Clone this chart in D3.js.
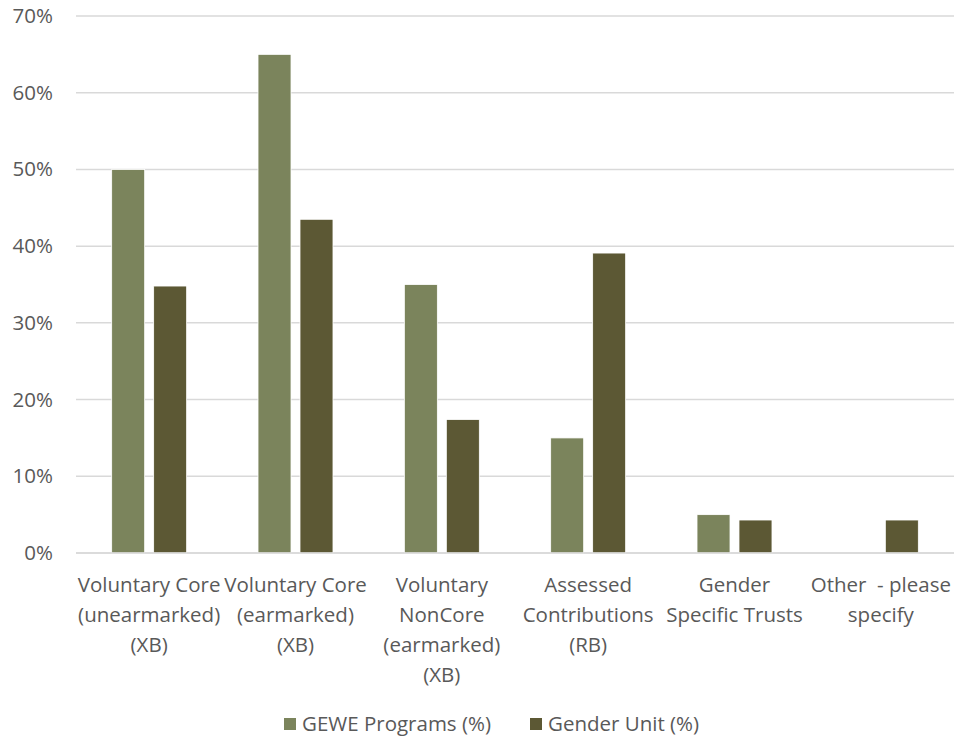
<!DOCTYPE html>
<html><head><meta charset="utf-8">
<script src="https://cdn.jsdelivr.net/npm/d3@7"></script>
<style>body{margin:0;background:#fff}svg{display:block}</style>
</head><body>
<script>
const categories = [
  "Voluntary Core\n(unearmarked)\n(XB)",
  "Voluntary Core\n(earmarked)\n(XB)",
  "Voluntary\nNonCore\n(earmarked)\n(XB)",
  "Assessed\nContributions\n(RB)",
  "Gender\nSpecific Trusts",
  "Other  - please\nspecify"
];
const seriesNames = ["GEWE Programs (%)", "Gender Unit (%)"];
const geweValues = [50, 65, 35, 15, 5, 0];
const genderUnitValues = [34.8, 43.5, 17.4, 39.1, 4.3, 4.3];
const yTicks = [0, 10, 20, 30, 40, 50, 60, 70];
const colors = ["#7b845c", "#5c5834"];

const W = 955, H = 739;
const m = {left: 76, right: 1, top: 16, bottom: 186};
const svg = d3.select("body").append("svg").attr("width", W).attr("height", H);
const font = "'Open Sans', 'Noto Sans', sans-serif";
const fs = "20.5px";

const x = d3.scaleBand().domain(categories).range([m.left, W - m.right]).paddingInner(0).paddingOuter(0);
const xs = d3.scaleBand().domain(seriesNames).range([0, x.bandwidth()]).paddingInner(0.214).paddingOuter(0.85);
const y = d3.scaleLinear().domain([0, 70]).range([H - m.bottom, m.top]);

// gridlines
svg.append("g").selectAll("line").data(yTicks).join("line")
  .attr("x1", m.left).attr("x2", W - m.right)
  .attr("y1", d => y(d)).attr("y2", d => y(d))
  .attr("stroke", "#d9d9d9").attr("stroke-width", 1.5);

// y axis labels
const yAxis = d3.axisLeft(y).tickValues(yTicks).tickFormat(d => d + "%").tickSize(0).tickPadding(23);
const ya = svg.append("g").attr("transform", `translate(${m.left},0)`).call(yAxis);
ya.select(".domain").remove();
ya.selectAll("text").attr("fill", "#595959").style("font-family", font).style("font-size", fs);

// bars
const data = categories.map((c, i) => ({c, vals: [geweValues[i], genderUnitValues[i]]}));
const g = svg.append("g").selectAll("g").data(data).join("g")
  .attr("transform", d => `translate(${x(d.c)},0)`);
g.selectAll("rect").data(d => d.vals.map((v, j) => ({v, s: seriesNames[j], j}))).join("rect")
  .filter(d => d.v > 0)
  .attr("x", d => xs(d.s)).attr("width", xs.bandwidth())
  .attr("y", d => y(d.v)).attr("height", d => y(0) - y(d.v))
  .attr("fill", d => colors[d.j]).attr("stroke", "#fff").attr("stroke-width", 0.8);

// baseline
svg.append("line").attr("x1", m.left).attr("x2", W - m.right)
  .attr("y1", y(0)).attr("y2", y(0)).attr("stroke", "#d9d9d9").attr("stroke-width", 1.5);

// x labels
const xl = svg.append("g").selectAll("text").data(categories).join("text")
  .attr("x", d => x(d) + x.bandwidth() / 2).attr("y", y(0) + 39)
  .attr("text-anchor", "middle").attr("fill", "#595959")
  .attr("xml:space", "preserve")
  .style("font-family", font).style("font-size", fs);
xl.selectAll("tspan").data(d => d.split("\n")).join("tspan")
  .attr("x", function(){ return this.parentNode.getAttribute("x"); })
  .attr("dy", (d, i) => i === 0 ? 0 : 30)
  .style("white-space", "pre")
  .text(d => d);

// legend
const legendX = [284, 530];
const lg = svg.append("g").selectAll("g").data(seriesNames).join("g")
  .attr("transform", (d, i) => `translate(${legendX[i]},718)`);
lg.append("rect").attr("width", 12).attr("height", 12).attr("fill", (d, i) => colors[i]);
lg.append("text").attr("x", 18).attr("y", 13).attr("fill", "#595959")
  .style("font-family", font).style("font-size", fs).text(d => d);
</script>
</body></html>
